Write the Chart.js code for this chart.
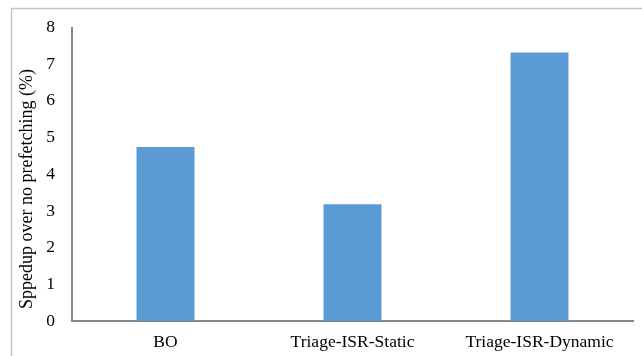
<!DOCTYPE html>
<html>
<head>
<meta charset="utf-8">
<script src="https://cdn.jsdelivr.net/npm/chart.js@4/dist/chart.umd.min.js"></script>
<style>
  html, body { margin: 0; padding: 0; background: #ffffff; }
  #wrap { width: 642px; height: 356px; }
</style>
</head>
<body>
<div id="wrap"><canvas id="c" width="642" height="356"></canvas></div>
<script>
// Speedup of each prefetching scheme relative to running with no prefetching
const categories = ['BO', 'Triage-ISR-Static', 'Triage-ISR-Dynamic'];
const speedup = [4.74, 3.18, 7.32];
const yTicks = [0, 1, 2, 3, 4, 5, 6, 7, 8];
const yTitle = 'Sppedup over no prefetching (%)';

const FONT = '"Liberation Serif", "Times New Roman", serif';

// Light outer frame (top and left edges) around the figure
const framePlugin = {
  id: 'frame',
  beforeDraw(chart) {
    const ctx = chart.ctx;
    ctx.save();
    ctx.strokeStyle = '#c4c4c4';
    ctx.lineWidth = 1.5;
    ctx.beginPath();
    ctx.moveTo(11.5, 356);
    ctx.lineTo(11.5, 8.5);
    ctx.lineTo(642, 8.5);
    ctx.stroke();
    ctx.restore();
  }
};

// Rotated y-axis title, sitting a little below the middle of the axis
const yTitlePlugin = {
  id: 'yTitle',
  afterDraw(chart) {
    const ctx = chart.ctx;
    ctx.save();
    ctx.translate(27, 189);
    ctx.rotate(-Math.PI / 2);
    ctx.fillStyle = '#000000';
    ctx.font = '18px ' + FONT;
    ctx.textAlign = 'center';
    ctx.textBaseline = 'middle';
    ctx.fillText(yTitle, 0, 0);
    ctx.restore();
  }
};

new Chart(document.getElementById('c'), {
  type: 'bar',
  data: {
    labels: categories,
    datasets: [{
      data: speedup,
      backgroundColor: '#5B9BD5',
      borderWidth: 0,
      categoryPercentage: 1.0,
      barPercentage: 0.31
    }]
  },
  options: {
    responsive: false,
    animation: false,
    devicePixelRatio: 1,
    layout: { padding: { left: 0, right: 9, top: 24, bottom: 0 } },
    plugins: {
      legend: { display: false },
      tooltip: { enabled: false }
    },
    scales: {
      x: {
        grid: { display: false, drawTicks: false },
        border: { display: true, color: '#878787', width: 2 },
        ticks: {
          color: '#000000',
          padding: 11,
          font: { family: FONT, size: 17.5 }
        },
        afterFit(scale) { scale.height = 35; }
      },
      y: {
        min: 0,
        max: 8,
        afterBuildTicks(scale) { scale.ticks = yTicks.map(v => ({ value: v })); },
        grid: { display: false, drawTicks: false },
        border: { display: true, color: '#878787', width: 2 },
        ticks: {
          color: '#000000',
          padding: 17,
          font: { family: FONT, size: 17.5 }
        },
        title: { display: false },
        afterFit(scale) { scale.width = 72; }
      }
    }
  },
  plugins: [framePlugin, yTitlePlugin]
});
</script>
</body>
</html>
